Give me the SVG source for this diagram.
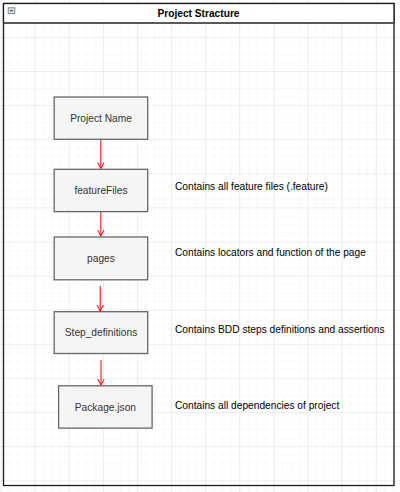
<svg xmlns="http://www.w3.org/2000/svg" width="400" height="492" viewBox="0 0 400 492">
<defs>
<pattern id="minor" x="0.6" y="2.8" width="8.525" height="8.525" patternUnits="userSpaceOnUse">
<path d="M0 0H8.525M0 0V8.525" fill="none" stroke="#f3f3f3" stroke-width="1"/>
</pattern>
<pattern id="major" x="0.6" y="2.8" width="34.1" height="34.1" patternUnits="userSpaceOnUse">
<path d="M0 0H34.1M0 0V34.1" fill="none" stroke="#e4e4e4" stroke-width="1"/>
</pattern>
<marker id="arr" markerWidth="10" markerHeight="10" refX="8" refY="5" orient="auto" markerUnits="userSpaceOnUse" viewBox="0 0 10 10">
<path d="M2 1.8L8 5L2 8.2" fill="none" stroke="#ff0000" stroke-width="1"/>
</marker>
</defs>
<style>
.box{fill:#f5f5f5;stroke:#666666;stroke-width:1.3}
.lbl{font-family:"Liberation Sans",Arial,sans-serif;font-size:10.2px;fill:#333333;text-anchor:middle;dominant-baseline:central}
.note{font-family:"Liberation Sans",Arial,sans-serif;font-size:10.2px;fill:#000000;dominant-baseline:central}
.con{stroke:#ff0000;stroke-width:1;fill:none;marker-end:url(#arr)}
</style>
<rect width="400" height="492" fill="#ffffff"/>
<rect width="400" height="492" fill="url(#minor)"/>
<rect width="400" height="492" fill="url(#major)"/>
<g id="container">
<rect x="3.5" y="3.5" width="390.5" height="482" fill="none" stroke="#1a1a1a" stroke-width="1.3"/>
<rect x="3.5" y="3.5" width="390.5" height="19.5" fill="#ffffff" stroke="#1a1a1a" stroke-width="1.3"/>
<line x1="3.5" y1="23" x2="394" y2="23" stroke="#555555" stroke-width="1.6"/>
<rect x="8.2" y="7.8" width="6.6" height="5.8" fill="#e4e4e4" stroke="#7a8a9a" stroke-width="1"/>
<line x1="9.8" y1="10.7" x2="13.2" y2="10.7" stroke="#555" stroke-width="1.2"/>
<text x="198.5" y="13.5" font-family="'Liberation Sans',Arial,sans-serif" font-size="10.2" font-weight="bold" text-anchor="middle" dominant-baseline="central" fill="#000">Project Stracture</text>
</g>
<g id="connectors">
<line class="con" x1="100.8" y1="139.5" x2="100.8" y2="168.5"/>
<line class="con" x1="100.8" y1="212" x2="100.8" y2="236"/>
<line class="con" x1="100.2" y1="286" x2="100.2" y2="311"/>
<line class="con" x1="101" y1="360" x2="101" y2="385"/>
</g>
<g id="n1"><rect class="box" x="54.2" y="97" width="93.5" height="42.3"/><text class="lbl" x="101" y="118.2">Project Name</text></g>
<g id="n2"><rect class="box" x="54.2" y="169.3" width="93.5" height="42.3"/><text class="lbl" x="101" y="190.5">featureFiles</text></g>
<g id="n3"><rect class="box" x="54.2" y="237" width="93.5" height="42.8"/><text class="lbl" x="101" y="258.3">pages</text></g>
<g id="n4"><rect class="box" x="54.2" y="311.7" width="93.5" height="41.8"/><text class="lbl" x="101" y="332.6">Step_definitions</text></g>
<g id="n5"><rect class="box" x="58.6" y="385.8" width="93.5" height="42.3"/><text class="lbl" x="105.4" y="407">Package.json</text></g>
<g id="notes">
<text class="note" x="175" y="186">Contains all feature files (.feature)</text>
<text class="note" x="175" y="252.6">Contains locators and function of the page</text>
<text class="note" x="175" y="329.3">Contains BDD steps definitions and assertions</text>
<text class="note" x="175" y="405.7">Contains all dependencies of project</text>
</g>
</svg>
